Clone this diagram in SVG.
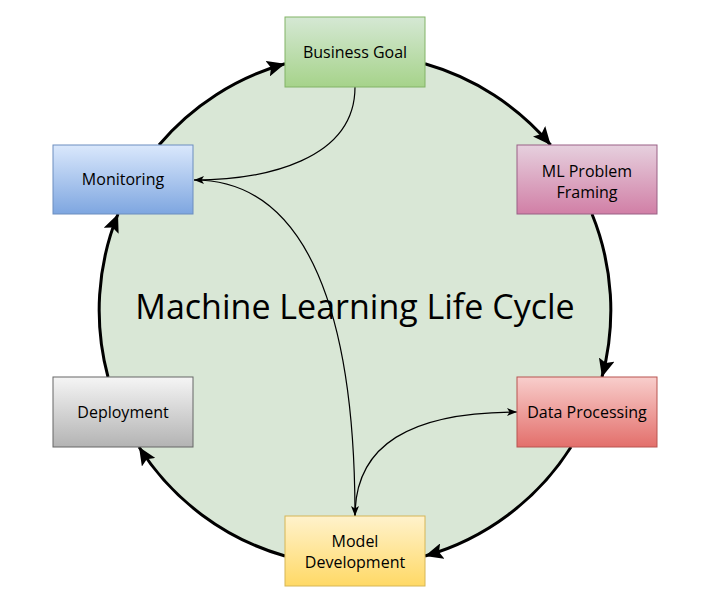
<svg xmlns="http://www.w3.org/2000/svg" width="720" height="598" viewBox="0 0 720 598">
<style>
.node rect{stroke-width:1}
.lbl{font-family:"Open Sans","Noto Sans","Liberation Sans",sans-serif;font-size:16px;font-weight:500;fill:#000;text-anchor:middle}
.arc{fill:none;stroke:#000;stroke-width:3;marker-end:url(#big)}
.thin{fill:none;stroke:#000;stroke-width:1.2;marker-end:url(#small)}
.title{font-family:"Open Sans","Noto Sans","Liberation Sans",sans-serif;font-size:34px;font-weight:500;fill:#000;text-anchor:middle}
</style>
<defs>
<marker id="big" markerUnits="userSpaceOnUse" viewBox="0 0 18 16" markerWidth="18" markerHeight="16" refX="18" refY="8" orient="auto">
<path d="M0,0 L18,8 L0,16 L3.5,8 z" fill="#000"/>
</marker>
<marker id="small" markerUnits="userSpaceOnUse" viewBox="0 0 10 8" markerWidth="10" markerHeight="8" refX="10" refY="4" orient="auto">
<path d="M0,0 L10,4 L0,8 L2.5,4 z" fill="#000"/>
</marker>
<linearGradient id="gGreen" x1="0" y1="0" x2="0" y2="1"><stop offset="0" stop-color="#d5e8d4"/><stop offset="1" stop-color="#a6d38a"/></linearGradient>
<linearGradient id="gPink" x1="0" y1="0" x2="0" y2="1"><stop offset="0" stop-color="#e6d0de"/><stop offset="1" stop-color="#d17fa6"/></linearGradient>
<linearGradient id="gBlue" x1="0" y1="0" x2="0" y2="1"><stop offset="0" stop-color="#dae8fc"/><stop offset="1" stop-color="#7ea6e0"/></linearGradient>
<linearGradient id="gRed" x1="0" y1="0" x2="0" y2="1"><stop offset="0" stop-color="#f8cecc"/><stop offset="1" stop-color="#e36f6b"/></linearGradient>
<linearGradient id="gGray" x1="0" y1="0" x2="0" y2="1"><stop offset="0" stop-color="#f5f5f5"/><stop offset="1" stop-color="#b3b3b3"/></linearGradient>
<linearGradient id="gYellow" x1="0" y1="0" x2="0" y2="1"><stop offset="0" stop-color="#fff2cc"/><stop offset="1" stop-color="#ffd966"/></linearGradient>
</defs>
<rect width="720" height="598" fill="#fff"/>
<g id="cycle-bg">
<circle cx="355" cy="310" r="256" fill="#d9e7d6"/>
<text class="title" x="355" y="319">Machine Learning Life Cycle</text>
</g>
<g id="connectors">
<path class="arc" d="M159,145 A256,256 0 0 1 285,63.8"/>
<path class="arc" d="M425,63.8 A256,256 0 0 1 550.7,145"/>
<path class="arc" d="M592,214 A256,256 0 0 1 602,377"/>
<path class="arc" d="M571,447 A256,256 0 0 1 425,556"/>
<path class="arc" d="M285,556 A256,256 0 0 1 139,447"/>
<path class="arc" d="M108,377 A256,256 0 0 1 118,214"/>
<path class="thin" d="M355,87 C355,160 265,180 194,180"/>
<path class="thin" d="M194,180 C310,180 355,320 355,516"/>
<path class="thin" d="M355,516 C355,445 410,412 517,412"/>
</g>
<g id="business-goal" class="node">
<rect x="285" y="17" width="140" height="70" fill="url(#gGreen)" stroke="#82b366"/>
<text class="lbl" x="355" y="58">Business Goal</text>
</g>
<g id="ml-problem-framing" class="node">
<rect x="517" y="145" width="140" height="69" fill="url(#gPink)" stroke="#996185"/>
<text class="lbl" x="587" y="177">ML Problem</text>
<text class="lbl" x="587" y="198">Framing</text>
</g>
<g id="monitoring" class="node">
<rect x="53" y="145" width="140" height="69" fill="url(#gBlue)" stroke="#6c8ebf"/>
<text class="lbl" x="123" y="185">Monitoring</text>
</g>
<g id="data-processing" class="node">
<rect x="517" y="377" width="140" height="70" fill="url(#gRed)" stroke="#b85450"/>
<text class="lbl" x="587" y="418">Data Processing</text>
</g>
<g id="deployment" class="node">
<rect x="53" y="377" width="140" height="70" fill="url(#gGray)" stroke="#666666"/>
<text class="lbl" x="123" y="418">Deployment</text>
</g>
<g id="model-development" class="node">
<rect x="285" y="516" width="140" height="70" fill="url(#gYellow)" stroke="#d6b656"/>
<text class="lbl" x="355" y="547">Model</text>
<text class="lbl" x="355" y="568">Development</text>
</g>
</svg>
